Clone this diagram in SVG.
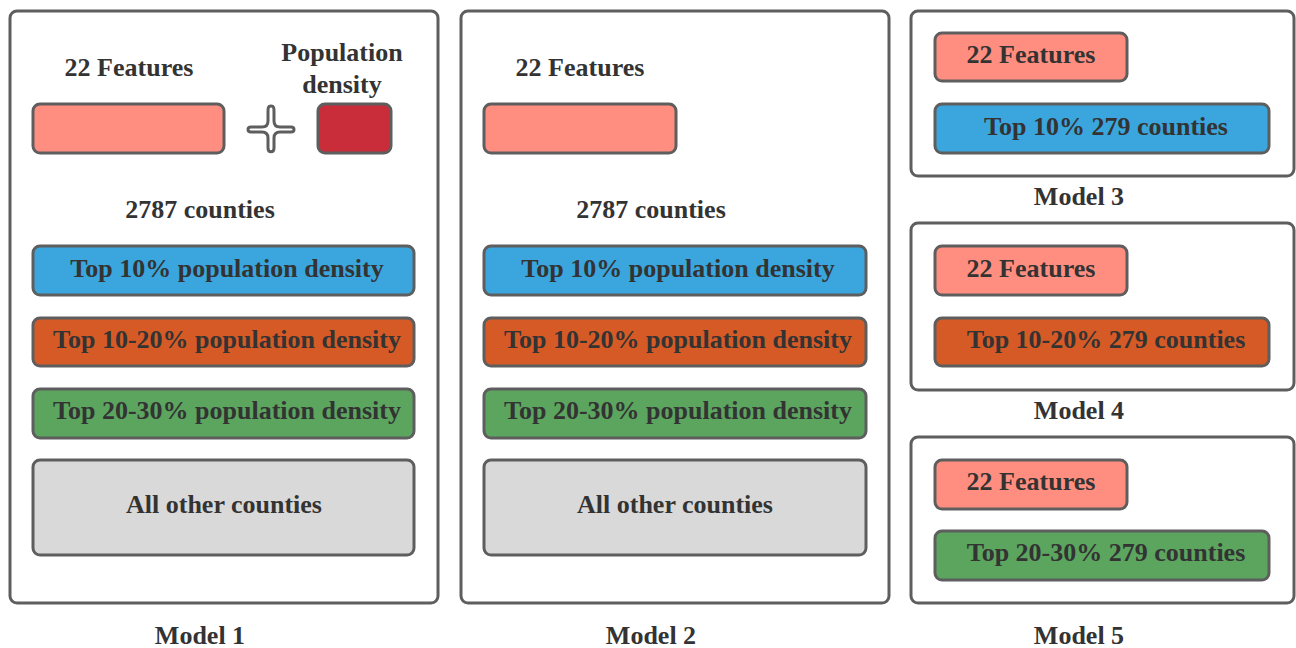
<svg xmlns="http://www.w3.org/2000/svg" width="1296" height="648" viewBox="0 0 1296 648">
<style>
.frame{fill:#fff;stroke:#5e5e5e;stroke-width:3}
.box{stroke:#5e5e5e;stroke-width:3}
.feat{fill:#ff8e80}
.pop{fill:#c92d39}
.blue{fill:#3aa6dd}
.orange{fill:#d65a25}
.green{fill:#5ba55f}
.gray{fill:#d9d9d9}
.t{font-weight:bold;font-size:26px;fill:#333;text-anchor:middle}
</style>
<rect width="1296" height="648" fill="#fff"/>
<g font-family="Liberation Serif">
<g id="model1">
<rect class="frame" x="10" y="11" width="428" height="592" rx="7"/>
<text class="t" x="129" y="76">22 Features</text>
<text class="t" x="342" y="61">Population</text>
<text class="t" x="342" y="93">density</text>
<rect class="box feat" x="33" y="104" width="191" height="49" rx="7"/>
<path d="M271,106 C268,106 268,108 268,112 L268,121 C268,125 266,127 262,127 L251,127 C247,127 247,132 251,132 L262,132 C266,132 268,134 268,138 L268,148 C268,153 274,153 274,148 L274,138 C274,134 276,132 280,132 L291,132 C295,132 295,127 291,127 L280,127 C276,127 274,125 274,121 L274,112 C274,108 274,106 271,106 Z" fill="#fff" stroke="#5e5e5e" stroke-width="3"/>
<rect class="box pop" x="318" y="104" width="73" height="49" rx="7"/>
<text class="t" x="200" y="218">2787 counties</text>
<rect class="box blue" x="33" y="246" width="381" height="49" rx="7"/>
<text class="t" x="227" y="277">Top 10% population density</text>
<rect class="box orange" x="33" y="318" width="381" height="48" rx="7"/>
<text class="t" x="227" y="348">Top 10-20% population density</text>
<rect class="box green" x="33" y="389" width="381" height="49" rx="7"/>
<text class="t" x="227" y="419">Top 20-30% population density</text>
<rect class="box gray" x="33" y="460" width="381" height="95" rx="7"/>
<text class="t" x="224" y="513">All other counties</text>
<text class="t" x="200" y="644">Model 1</text>
</g>
<g id="model2">
<rect class="frame" x="461" y="11" width="428" height="592" rx="7"/>
<text class="t" x="580" y="76">22 Features</text>
<rect class="box feat" x="484" y="104" width="192" height="49" rx="7"/>
<text class="t" x="651" y="218">2787 counties</text>
<rect class="box blue" x="484" y="246" width="382" height="49" rx="7"/>
<text class="t" x="678" y="277">Top 10% population density</text>
<rect class="box orange" x="484" y="318" width="382" height="48" rx="7"/>
<text class="t" x="678" y="348">Top 10-20% population density</text>
<rect class="box green" x="484" y="389" width="382" height="49" rx="7"/>
<text class="t" x="678" y="419">Top 20-30% population density</text>
<rect class="box gray" x="484" y="460" width="382" height="95" rx="7"/>
<text class="t" x="675" y="513">All other counties</text>
<text class="t" x="651" y="644">Model 2</text>
</g>
<g id="model3">
<rect class="frame" x="911" y="11" width="383" height="165" rx="7"/>
<rect class="box feat" x="935" y="33" width="192" height="48" rx="7"/>
<text class="t" x="1031" y="63">22 Features</text>
<rect class="box blue" x="935" y="104" width="334" height="49" rx="7"/>
<text class="t" x="1106" y="135">Top 10% 279 counties</text>
<text class="t" x="1079" y="205">Model 3</text>
</g>
<g id="model4">
<rect class="frame" x="911" y="223" width="383" height="167" rx="7"/>
<rect class="box feat" x="935" y="246" width="192" height="49" rx="7"/>
<text class="t" x="1031" y="277">22 Features</text>
<rect class="box orange" x="935" y="318" width="334" height="48" rx="7"/>
<text class="t" x="1106" y="348">Top 10-20% 279 counties</text>
<text class="t" x="1079" y="419">Model 4</text>
</g>
<g id="model5">
<rect class="frame" x="911" y="437" width="383" height="166" rx="7"/>
<rect class="box feat" x="935" y="460" width="192" height="49" rx="7"/>
<text class="t" x="1031" y="490">22 Features</text>
<rect class="box green" x="935" y="531" width="334" height="49" rx="7"/>
<text class="t" x="1106" y="561">Top 20-30% 279 counties</text>
<text class="t" x="1079" y="644">Model 5</text>
</g>
</g>
<g id="connectors"></g>
</svg>
